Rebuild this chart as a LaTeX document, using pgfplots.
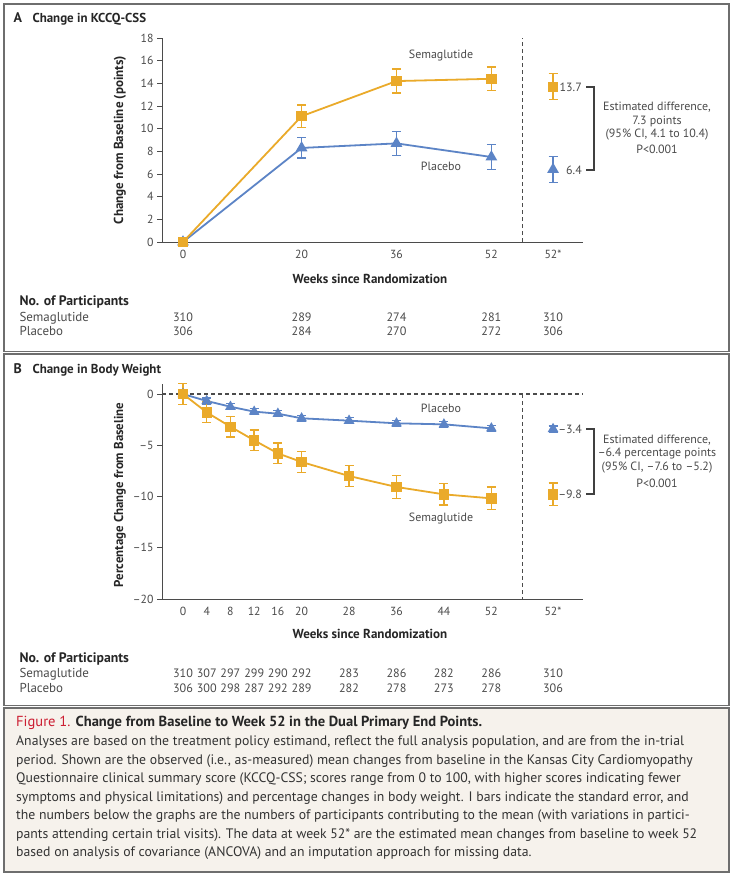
\documentclass[border=0pt]{standalone}
\usepackage{fontspec}
\setmainfont{PT Sans}
\usepackage{pgfplots}
\pgfplotsset{compat=1.18}
\definecolor{sema}{RGB}{234,170,42}
\definecolor{plac}{RGB}{92,132,198}
\definecolor{txt}{RGB}{75,75,75}
\definecolor{frm}{RGB}{110,110,110}
\definecolor{capbg}{RGB}{246,242,236}
\definecolor{figred}{RGB}{204,30,50}
\pgfplotsset{
  nejm/.style={scale only axis, width=421bp, xmin=-3.54, xmax=67.45,
    axis x line*=bottom, axis y line*=left,
    axis line style={draw=txt, line width=1bp, -},
    tick align=outside, major tick length=5bp,
    ytick style={draw=txt, line width=1bp}, xtick style={draw=none},
    ticklabel style={font=\fontsize{11.8}{12}\selectfont, text=txt},
    /pgf/number format/assume math mode=true,
    clip=false},
  ser/.style={color=#1, line width=1.8bp, mark options={solid, fill=#1},
    /pgfplots/error bars/y dir=both, /pgfplots/error bars/y explicit,
    /pgfplots/error bars/error bar style={line width=1.4bp, solid, #1},
    /pgfplots/error bars/error mark options={rotate=90, mark size=4.5bp, line width=1.4bp, #1}},
}
\newcommand{\tf}{\fontsize{12}{14}\selectfont}
\newcommand{\tb}{\fontsize{13}{15}\selectfont}
\newcommand{\tn}{\fontsize{12.2}{15}\selectfont}
\newcommand{\lb}{\fontsize{13.1}{15}\selectfont\bfseries}
\begin{document}
\begin{tikzpicture}
\path[use as bounding box] (0,0) rectangle (736bp,-875bp);
\fill[white] (0,0) rectangle (736bp,-875bp);
% frames
\draw[frm, line width=1.6bp] (4bp,-4bp) rectangle (729bp,-351.5bp);
\draw[frm, line width=1.6bp] (4bp,-354bp) rectangle (729bp,-705.5bp);
\draw[frm, line width=1.6bp, fill=capbg] (4bp,-708bp) rectangle (729bp,-872bp);

% ---------- Panel A ----------
\node[anchor=base west, font=\fontsize{14}{16}\selectfont\bfseries, text=black!85] at (10bp,-22bp) {A};
\node[anchor=base west, font=\fontsize{13}{16}\selectfont\bfseries, text=black!85] at (29bp,-22bp) {Change in KCCQ-CSS};
\begin{axis}[nejm, height=204bp, at={(162bp,-242bp)}, anchor=south west,
  ymin=0, ymax=18, ytick={0,2,...,18},
  xtick={0,20,36,52,62.4}, xticklabels={0,20,36,52,52*}]
\addplot[ser=plac, mark=triangle*, mark size=5bp] coordinates {
 (0,0) (20,8.3) +- (0,0.9) (36,8.7) +- (0,1.05) (52,7.5) +- (0,1.1)};
\addplot[ser=sema, mark=square*, mark size=4.3bp] coordinates {
 (0,0) (20,11.1) +- (0,1.0) (36,14.2) +- (0,1.05) (52,14.4) +- (0,1.05)};
\addplot[ser=plac, only marks, mark=triangle*, mark size=5bp] coordinates {(62.4,6.4) +- (0,1.15)};
\addplot[ser=sema, only marks, mark=square*, mark size=4.3bp] coordinates {(62.4,13.7) +- (0,1.15)};
\draw[txt, line width=1.2bp, dash pattern=on 4bp off 3bp] (axis cs:57.2,0) -- (axis cs:57.2,18);
\end{axis}
\foreach \xx/\a/\b in {183/310/306, 301.6/289/284, 396.5/274/270, 491.4/281/272, 553/310/306}{
  \node[anchor=base, font=\tn, text=txt] at (\xx bp,-321bp) {\a};
  \node[anchor=base, font=\tn, text=txt] at (\xx bp,-335bp) {\b};
}
\node[rotate=90, font=\lb, text=black!85] at (120bp,-140bp) {Change from Baseline (points)};
\node[font=\lb, text=black!85] at (370bp,-279bp) {Weeks since Randomization};
\node[font=\tf, text=txt] at (441bp,-56bp) {Semaglutide};
\node[font=\tf, text=txt] at (441bp,-166bp) {Placebo};
\node[anchor=east, font=\tf, text=txt, inner sep=0pt] at (582bp,-87bp) {13.7};
\node[anchor=east, font=\tf, text=txt, inner sep=0pt] at (582bp,-170bp) {6.4};
\draw[black!75, line width=1.3bp] (586bp,-87bp) -- (594bp,-87bp) -- (594bp,-170bp) -- (586bp,-170bp);
\node[font=\tf, text=txt] at (657bp,-107bp) {Estimated difference,};
\node[font=\tf, text=txt] at (657bp,-121bp) {7.3 points};
\node[font=\tf, text=txt] at (657bp,-135bp) {(95\% CI, 4.1 to 10.4)};
\node[font=\tf, text=txt] at (657bp,-149bp) {P<0.001};
\node[anchor=base west, font=\fontsize{13.8}{15}\selectfont\bfseries, text=black!85] at (16bp,-305bp) {No. of Participants};
\node[anchor=base west, font=\tb, text=txt] at (16bp,-321bp) {Semaglutide};
\node[anchor=base west, font=\tb, text=txt] at (16bp,-335bp) {Placebo};

% ---------- Panel B ----------
\node[anchor=base west, font=\fontsize{14}{16}\selectfont\bfseries, text=black!85] at (10bp,-373bp) {B};
\node[anchor=base west, font=\fontsize{13}{16}\selectfont\bfseries, text=black!85] at (29bp,-373bp) {Change in Body Weight};
\begin{axis}[nejm, height=215.25bp, at={(162bp,-599bp)}, anchor=south west,
  ymin=-20, ymax=1, ytick={-20,-15,-10,-5,0}, yticklabels={–20,–15,–10,–5,0},
  xtick={0,4,8,12,16,20,28,36,44,52,62.4}, xticklabels={0,4,8,12,16,20,28,36,44,52,52*}]
\draw[txt, line width=1.2bp, dash pattern=on 4bp off 3bp] (axis cs:-3.54,0) -- (axis cs:67.45,0);
\draw[txt, line width=1.2bp, dash pattern=on 4bp off 3bp] (axis cs:57.2,0) -- (axis cs:57.2,-20);
\addplot[ser=plac, mark=triangle*, mark size=4.4bp] coordinates {
 (0,0) (4,-0.68) +- (0,0.3) (8,-1.24) +- (0,0.3) (12,-1.72) +- (0,0.3) (16,-1.92) +- (0,0.3)
 (20,-2.37) +- (0,0.3) (28,-2.6) +- (0,0.3) (36,-2.86) +- (0,0.3) (44,-2.96) +- (0,0.3) (52,-3.35) +- (0,0.3)};
\addplot[ser=sema, mark=square*, mark size=4.3bp] coordinates {
 (0,0) +- (0,1.05) (4,-1.79) +- (0,1.0) (8,-3.19) +- (0,1.0) (12,-4.52) +- (0,1.0) (16,-5.79) +- (0,1.0)
 (20,-6.63) +- (0,1.0) (28,-8.0) +- (0,1.05) (36,-9.07) +- (0,1.1) (44,-9.79) +- (0,1.05) (52,-10.18) +- (0,1.1)};
\addplot[ser=plac, only marks, mark=triangle*, mark size=4.4bp] coordinates {(62.4,-3.41) +- (0,0.3)};
\addplot[ser=sema, only marks, mark=square*, mark size=4.3bp] coordinates {(62.4,-9.79) +- (0,1.1)};
\end{axis}
\foreach \xx/\a/\b in {183/310/306, 206.7/307/300, 230.4/297/298, 254.2/299/287, 277.9/290/292, 301.6/292/289, 349/283/282, 396.5/286/278, 443.9/282/273, 491.4/286/278, 553/310/306}{
  \node[anchor=base, font=\tn, text=txt] at (\xx bp,-677bp) {\a};
  \node[anchor=base, font=\tn, text=txt] at (\xx bp,-692bp) {\b};
}
\node[rotate=90, font=\fontsize{12.9}{15}\selectfont\bfseries, text=black!85] at (120bp,-495bp) {Percentage Change from Baseline};
\node[font=\lb, text=black!85] at (370bp,-634bp) {Weeks since Randomization};
\node[font=\tf, text=txt] at (441bp,-408bp) {Placebo};
\node[font=\tf, text=txt] at (441bp,-519bp) {Semaglutide};
\node[anchor=east, font=\tf, text=txt, inner sep=0pt] at (582bp,-429bp) {–3.4};
\node[anchor=east, font=\tf, text=txt, inner sep=0pt] at (582bp,-494bp) {–9.8};
\draw[black!75, line width=1.3bp] (586bp,-429bp) -- (594bp,-429bp) -- (594bp,-494bp) -- (586bp,-494bp);
\node[font=\tf, text=txt] at (657bp,-440bp) {Estimated difference,};
\node[font=\tf, text=txt] at (657bp,-454bp) {–6.4 percentage points};
\node[font=\tf, text=txt] at (657bp,-468bp) {(95\% CI, –7.6 to –5.2)};
\node[font=\tf, text=txt] at (657bp,-483bp) {P<0.001};
\node[anchor=base west, font=\fontsize{13.8}{15}\selectfont\bfseries, text=black!85] at (16bp,-662bp) {No. of Participants};
\node[anchor=base west, font=\tb, text=txt] at (16bp,-677bp) {Semaglutide};
\node[anchor=base west, font=\tb, text=txt] at (16bp,-692bp) {Placebo};

% ---------- Caption ----------
\node[anchor=base west, font=\fontsize{14.6}{16}\selectfont, inner sep=0pt] at (16bp,-726bp) {\textcolor{figred}{Figure 1.} \textbf{\color{black!85}Change from Baseline to Week 52 in the Dual Primary End Points.}};
\foreach \yy/\ll in {
 745.5/{Analyses are based on the treatment policy estimand, reflect the full analysis population, and are from the in-trial},
 764/{period. Shown are the observed (i.e., as-measured) mean changes from baseline in the Kansas City Cardiomyopathy},
 782.5/{Questionnaire clinical summary score (KCCQ-CSS; scores range from 0 to 100, with higher scores indicating fewer},
 801/{symptoms and physical limitations) and percentage changes in body weight. I bars indicate the standard error, and},
 819.5/{the numbers below the graphs are the numbers of participants contributing to the mean (with variations in partici-},
 838/{pants attending certain trial visits). The data at week 52* are the estimated mean changes from baseline to week 52},
 856.5/{based on analysis of covariance (ANCOVA) and an imputation approach for missing data.}}{
 \node[anchor=base west, font=\fontsize{13.8}{16}\selectfont, text=black!80, inner sep=0pt] at (16bp,-\yy bp) {\ll};
}
\end{tikzpicture}
\end{document}
